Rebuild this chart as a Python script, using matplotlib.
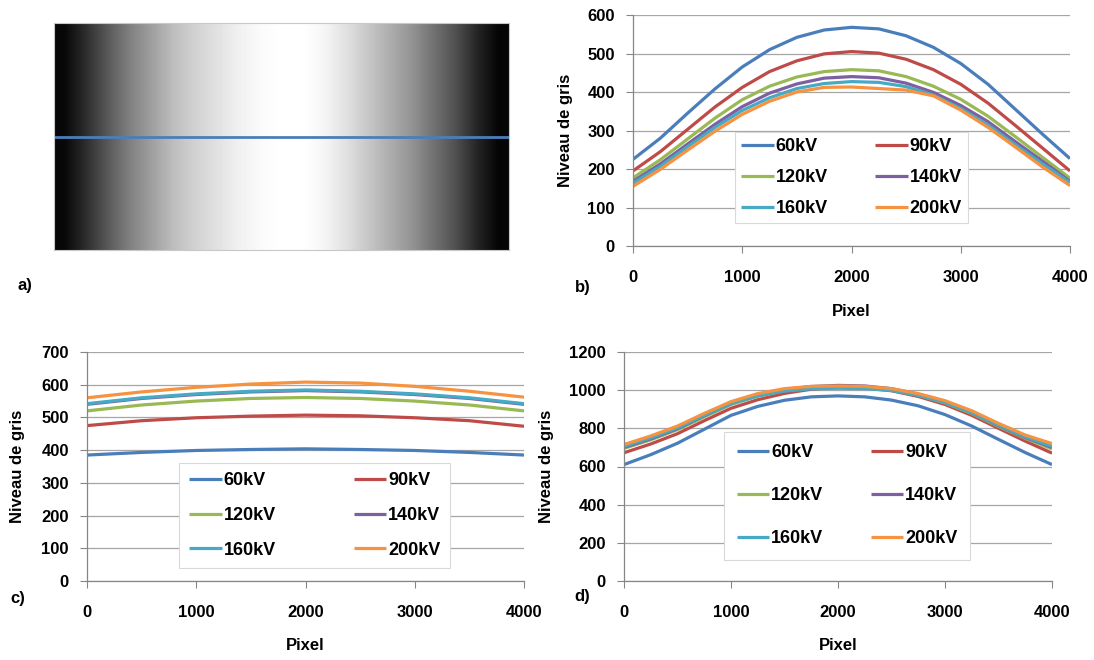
import numpy as np
import matplotlib
matplotlib.use("Agg")
import matplotlib.pyplot as plt

plt.rcParams['font.family'] = ['Liberation Sans', 'DejaVu Sans']
plt.rcParams['font.weight'] = 'bold'

labels = ["60kV", "90kV", "120kV", "140kV", "160kV", "200kV"]
couleurs = ["#4A7EBB", "#BE4B48", "#98B954", "#7D60A0", "#46AAC5", "#F69240"]

# profil de gris de l'image a) (0 = noir, 1 = blanc), de gauche a droite
profil = [0.03, 0.18, 0.35, 0.50, 0.62, 0.74, 0.82, 0.88, 0.94, 0.98, 1.0,
          1.0, 0.96, 0.88, 0.78, 0.68, 0.58, 0.45, 0.32, 0.15, 0.02]

# b) niveaux de gris le long de la ligne
pixB = [0, 250, 500, 750, 1000, 1250, 1500, 1750, 2000, 2250, 2500, 2750, 3000, 3250, 3500, 3750, 4000]
b60 = [225, 280, 345, 408, 465, 510, 542, 561, 568, 564, 546, 516, 474, 420, 355, 290, 227]
b90 = [195, 245, 303, 361, 412, 453, 481, 499, 505, 501, 485, 458, 420, 371, 313, 254, 195]
b120 = [177, 224, 278, 332, 380, 415, 439, 453, 458, 455, 440, 415, 381, 337, 284, 230, 176]
b140 = [168, 213, 265, 316, 362, 397, 421, 436, 440, 437, 423, 399, 365, 323, 271, 220, 168]
b160 = [163, 207, 258, 308, 352, 385, 409, 422, 427, 425, 414, 392, 357, 314, 263, 213, 165]
b200 = [155, 199, 249, 298, 342, 376, 400, 412, 413, 409, 405, 390, 353, 308, 257, 205, 157]

# c)
pixC = [0, 500, 1000, 1500, 2000, 2500, 3000, 3500, 4000]
c60 = [385, 393, 399, 402, 404, 402, 399, 393, 385]
c90 = [475, 490, 499, 504, 507, 505, 499, 490, 473]
c120 = [520, 538, 550, 558, 561, 558, 550, 538, 520]
c140 = [540, 558, 570, 578, 582, 578, 570, 558, 540]
c160 = [542, 560, 572, 580, 584, 580, 572, 560, 542]
c200 = [560, 578, 592, 602, 608, 605, 595, 580, 562]

# d)
pixD = pixB
d60 = [610, 662, 722, 795, 868, 915, 947, 965, 970, 965, 948, 918, 872, 812, 742, 673, 610]
d90 = [672, 718, 772, 840, 905, 950, 983, 1005, 1015, 1012, 997, 967, 925, 868, 800, 733, 670]
d120 = [695, 740, 793, 860, 925, 968, 998, 1013, 1018, 1015, 1002, 973, 933, 878, 810, 748, 692]
d140 = [700, 745, 798, 866, 930, 974, 1004, 1019, 1025, 1022, 1008, 979, 938, 882, 814, 752, 700]
d160 = [705, 750, 802, 868, 930, 970, 995, 1007, 1010, 1008, 998, 973, 935, 882, 816, 755, 705]
d200 = [715, 760, 812, 878, 940, 982, 1008, 1020, 1022, 1020, 1008, 982, 945, 892, 826, 765, 720]

W, H = 1094, 660
fig = plt.figure(figsize=(W / 100, H / 100), dpi=100)


def boite(l, r, t, b):
    # position en pixels -> fraction de figure
    return [l / W, 1 - b / H, (r - l) / W, (b - t) / H]


def graphe(rect, x, series, ymax, ystep, leg, ylab_x):
    ax = fig.add_axes(rect)
    lignes = []
    for s, lab, c in zip(series, labels, couleurs):
        l, = ax.plot(x, s, color=c, lw=2.3, label=lab, solid_capstyle='butt')
        lignes.append(l)
    ax.set_xlim(0, 4000)
    ax.set_ylim(0, ymax)
    ax.set_xticks(range(0, 4001, 1000))
    ax.set_yticks(range(0, ymax + 1, ystep))
    ax.yaxis.grid(True, color='#a6a6a6', lw=0.9)
    ax.set_axisbelow(True)
    for cote in ['top', 'right']:
        ax.spines[cote].set_visible(False)
    for cote in ['left', 'bottom']:
        ax.spines[cote].set_color('#868686')
        ax.spines[cote].set_linewidth(0.9)
    ax.tick_params(axis='x', direction='out', length=5, color='#868686', pad=12, labelsize=12)
    ax.tick_params(axis='y', direction='out', length=5, color='#868686', pad=8, labelsize=12)
    ax.set_xlabel('Pixel', fontsize=12, fontweight='bold')
    ax.set_ylabel('Niveau de gris', fontsize=12, fontweight='bold')
    ax.xaxis.set_label_coords(0.5, -0.25)
    ax.yaxis.set_label_coords(ylab_x, 0.5)
    # ordre par lignes : 60 90 / 120 140 / 160 200
    ordre = [0, 2, 4, 1, 3, 5]
    x0, yb, w, h, spacing, bpad = leg
    lg = ax.legend([lignes[i] for i in ordre], [labels[i] for i in ordre],
                   ncol=2, loc='center', bbox_to_anchor=(x0, yb, w, h), mode='expand',
                   fontsize=13, frameon=True, fancybox=False, framealpha=1,
                   edgecolor='#d9d9d9', handlelength=1.8, handletextpad=0.1,
                   labelspacing=spacing, borderpad=bpad, borderaxespad=0)
    lg.get_frame().set_linewidth(0.8)
    for t in lg.get_texts():
        t.set_fontweight('bold')
    return ax


# a) image
axa = fig.add_axes(boite(54, 509, 23, 250))
img = np.array(profil)[None, :]
axa.imshow(img, cmap='gray', vmin=0, vmax=1, aspect='auto', interpolation='bilinear',
           extent=[0, 1, 0, 1])
axa.axhline(0.5, color='#4A7EBB', lw=2)
axa.set_xticks([])
axa.set_yticks([])
for s in axa.spines.values():
    s.set_color('#c8c8c8')
    s.set_linewidth(0.8)

graphe(boite(633, 1070, 15, 246), pixB, [b60, b90, b120, b140, b160, b200], 600, 100,
       (0.233, 0.104, 0.534, 0.385, 0.77, 0.36), -0.137)
graphe(boite(87, 524, 352, 581), pixC, [c60, c90, c120, c140, c160, c200], 700, 100,
       (0.211, 0.061, 0.62, 0.45, 0.97, 0.55), -0.142)
graphe(boite(624, 1052, 352, 581), pixD, [d60, d90, d120, d140, d160, d200], 1200, 200,
       (0.234, 0.10, 0.574, 0.546, 1.43, 0.7), -0.164)

fig.text(25 / W, 1 - 285 / H, 'a)', fontsize=12, fontweight='bold', ha='center', va='center')
fig.text(583 / W, 1 - 288 / H, 'b)', fontsize=12, fontweight='bold', ha='center', va='center')
fig.text(18 / W, 1 - 598 / H, 'c)', fontsize=12, fontweight='bold', ha='center', va='center')
fig.text(582 / W, 1 - 597 / H, 'd)', fontsize=12, fontweight='bold', ha='center', va='center')

fig.savefig('out.png', dpi=100)
